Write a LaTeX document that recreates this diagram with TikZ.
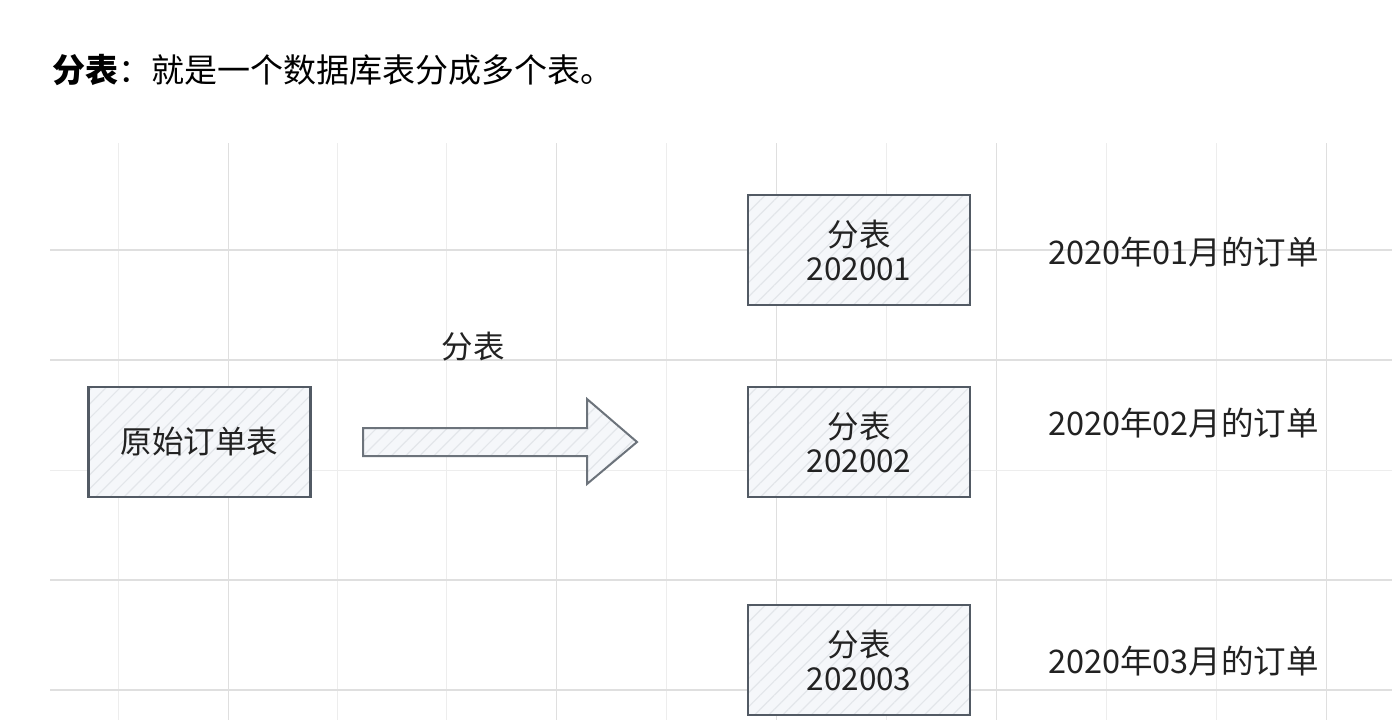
\documentclass[tikz,border=0pt]{standalone}
\usepackage{fontspec}
\setmainfont{Noto Sans CJK SC}
\usetikzlibrary{patterns.meta,calc}
\definecolor{gridminor}{HTML}{EDEDED}
\definecolor{gridmajor}{HTML}{DFDFDF}
\definecolor{boxfill}{HTML}{F5F7FA}
\definecolor{boxline}{HTML}{525A64}
\definecolor{hatch}{HTML}{E3E6EA}
\definecolor{txt}{HTML}{222222}
\tikzset{
  hatched/.style={preaction={fill=boxfill},
    preaction={pattern={Lines[angle=45,distance=10pt,line width=1.2pt]}, pattern color=hatch}},
  tablebox/.style={hatched, draw=boxline, line width=2.4pt,
    minimum width=222pt, minimum height=110pt, inner sep=0pt,
    align=center, font=\fontsize{31.5}{34}\selectfont, text=txt},
  monthlabel/.style={anchor=west, inner sep=0pt, font=\fontsize{32.5}{36}\selectfont, text=txt},
}
\begin{document}
\begin{tikzpicture}[x=1pt,y=-1pt]
\useasboundingbox (0,0) rectangle (1392,720);
\fill[white] (0,0) rectangle (1392,720);
% grid
\foreach \x in {118,337,446,666,886,1106,1216}
  \draw[gridminor, line width=1pt] (\x,143) -- (\x,720);
\foreach \x in {228,556,776,996,1326}
  \draw[gridmajor, line width=1pt] (\x,143) -- (\x,720);
\foreach \y in {470}
  \draw[gridminor, line width=1pt] (50,\y) -- (1392,\y);
\foreach \y in {250,360,580,690}
  \draw[gridmajor, line width=1.2pt] (50,\y) -- (1392,\y);
% title
\node[anchor=west, inner sep=0pt, font=\fontsize{33}{36}\selectfont, text=black] (title) at (52,70)
  {\textbf{分表}：就是一个数据库表分成多个表。};
% boxes
\node[tablebox] (orig) at (199.5,442) {原始订单表};
\node[tablebox] (t1) at (859,250) {分表\\202001};
\node[tablebox] (t2) at (859,442) {分表\\202002};
\node[tablebox] (t3) at (859,660) {分表\\202003};
% block arrow
\coordinate (as) at (363,442);
\coordinate (at) at (637,442);
\draw[hatched, draw=boxline!85, line width=2pt, line join=miter]
  ($(as)+(0,-14)$) -- (587,428) -- (587,399) -- (at) -- (587,484) -- (587,456) -- ($(as)+(0,14)$) -- cycle;
\node[inner sep=0pt, font=\fontsize{31.5}{34}\selectfont, text=txt] (lbl) at (473,347) {分表};
% month labels
\node[monthlabel] (m1) at (1048,252) {2020年01月的订单};
\node[monthlabel] (m2) at (1048,423) {2020年02月的订单};
\node[monthlabel] (m3) at (1048,661) {2020年03月的订单};
\end{tikzpicture}
\end{document}
